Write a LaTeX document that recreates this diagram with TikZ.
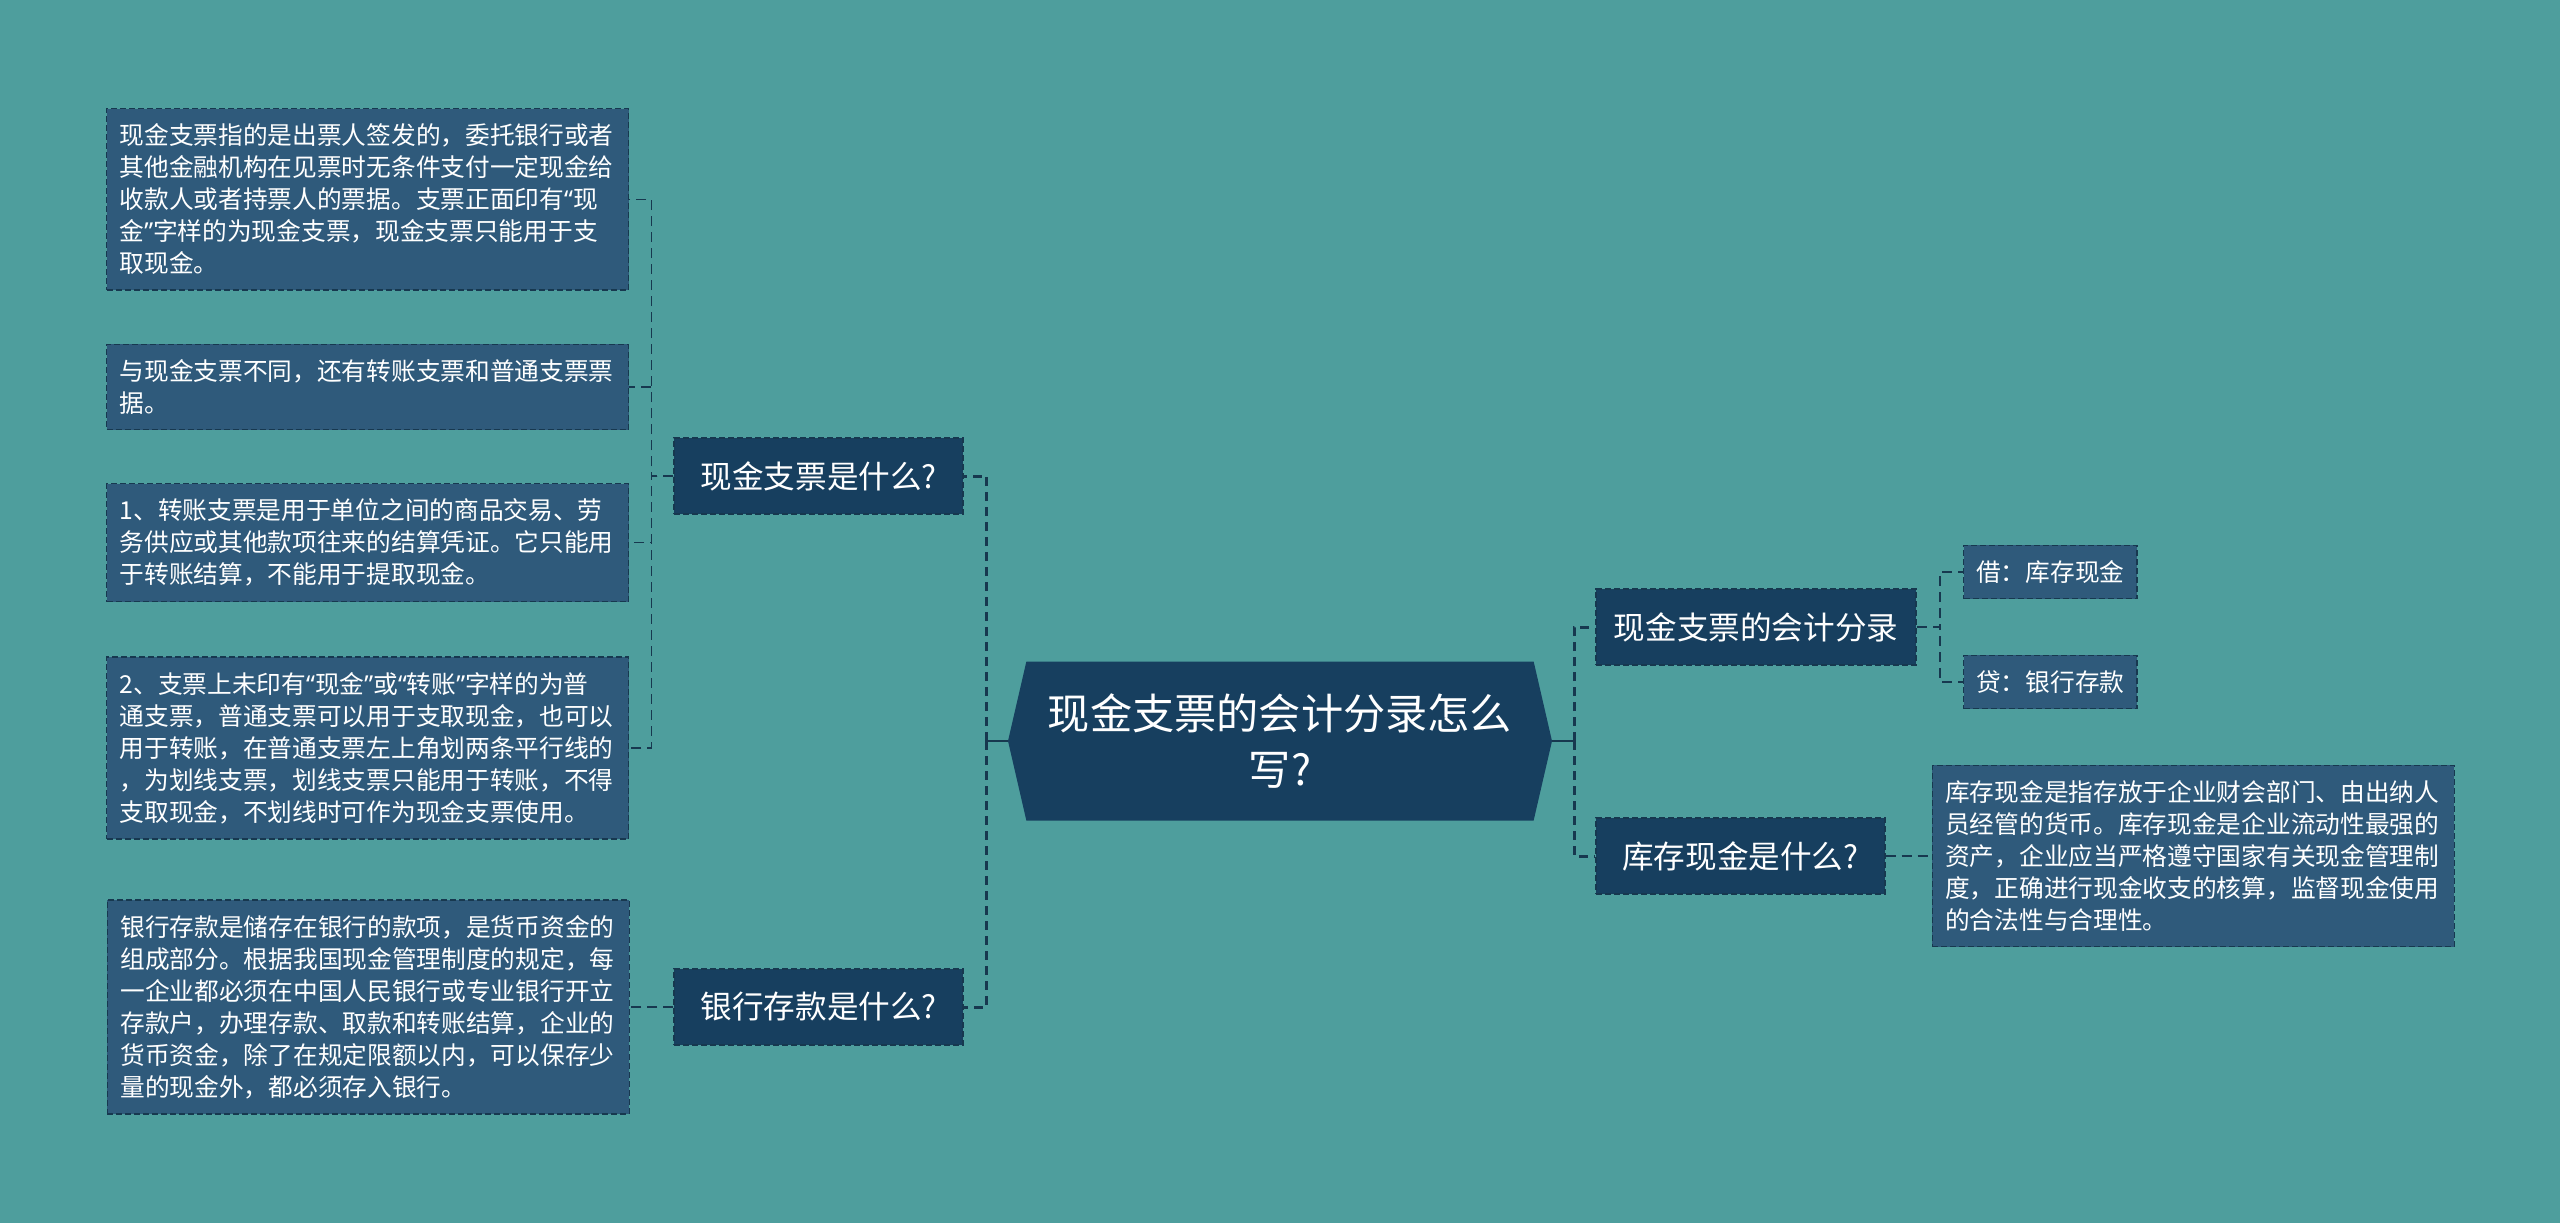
\documentclass[tikz,border=0pt]{standalone}
\usepackage{fontspec}
\setmainfont{Noto Sans CJK SC}
\newfontfamily\quotefont{Noto Sans}
\newcommand\quoted[1]{{\quotefont “}#1{\quotefont ”}}
\usetikzlibrary{positioning,shapes.symbols}
\definecolor{teal}{HTML}{4E9E9D}
\definecolor{navy}{HTML}{173F5F}
\definecolor{slate}{HTML}{2F5A7B}
\definecolor{edge}{HTML}{17384F}
\tikzset{
  x=0.5pt, y=-0.5pt,
  root/.style={
    signal, signal to=west and east, signal pointer angle=154,
    fill=navy, text=white, align=center,
    minimum width=272pt, minimum height=79.5pt, inner sep=0pt,
    font=\fontsize{21.1}{28}\selectfont
  },
  topic/.style={
    draw=edge, dash pattern=on 3pt off 1.5pt, line width=0.8pt,
    fill=navy, text=white,
    minimum width=144.5pt, minimum height=38pt, inner xsep=9pt,
    font=\fontsize{15.8}{19}\selectfont
  },
  leaf/.style={
    draw=edge, dash pattern=on 3pt off 1.5pt, line width=0.6pt,
    fill=slate, text=white, align=left,
    inner xsep=6.3pt, inner ysep=7.6pt,
    font=\fontsize{12.35}{16}\selectfont
  },
  note/.style={
    leaf, text width=248pt, inner xsep=6.5pt
  },
  stub/.style={draw=edge, line width=1pt},
  trunk/.style={draw=edge, line width=1.5pt, dash pattern=on 4.5pt off 3pt},
  twig/.style={draw=edge, line width=0.65pt, dash pattern=on 5pt off 3pt}
}
\begin{document}
\begin{tikzpicture}
  \fill[teal] (0,0) rectangle (2560,1223);
  \useasboundingbox (0,0) rectangle (2560,1223);

  % centre
  \node[root] (root) at (1280,741) {现金支票的会计分录怎么\\写?};

  % left branch
  \node[topic, anchor=east] (cash) at (964,476) {现金支票是什么?};
  \node[topic, anchor=east] (bank) at (964,1007) {银行存款是什么?};

  \node[note, anchor=north west] (def) at (106,108)
    {现金支票指的是出票人签发的，委托银行或者\\其他金融机构在见票时无条件支付一定现金给\\收款人或者持票人的票据。支票正面印有{\quotefont “}现\\金{\quotefont ”}字样的为现金支票，现金支票只能用于支\\取现金。};
  \node[note, below=26.5pt of def] (kinds)
    {与现金支票不同，还有转账支票和普通支票票\\据。};
  \node[note, below=26.5pt of kinds] (transfer)
    {1、转账支票是用于单位之间的商品交易、劳\\务供应或其他款项往来的结算凭证。它只能用\\于转账结算，不能用于提取现金。};
  \node[note, below=27pt of transfer] (common)
    {2、支票上未印有\quoted{现金}或\quoted{转账}字样的为普\\通支票，普通支票可以用于支取现金，也可以\\用于转账，在普通支票左上角划两条平行线的\\，为划线支票，划线支票只能用于转账，不得\\支取现金，不划线时可作为现金支票使用。};
  \node[note, anchor=east] (deposit) at (630,1007)
    {银行存款是储存在银行的款项，是货币资金的\\组成部分。根据我国现金管理制度的规定，每\\一企业都必须在中国人民银行或专业银行开立\\存款户，办理存款、取款和转账结算，企业的\\货币资金，除了在规定限额以内，可以保存少\\量的现金外，都必须存入银行。};

  % right branch
  \node[topic, anchor=west] (entry) at (1595,627) {现金支票的会计分录};
  \node[topic, anchor=west] (stock) at (1595,856) {库存现金是什么?};

  \node[leaf, right=23pt of entry, yshift=27.5pt] (debit) {借：库存现金};
  \node[leaf, right=23pt of entry, yshift=-27.5pt] (credit) {贷：银行存款};
  \node[note, right=23pt of stock] (stockdef)
    {库存现金是指存放于企业财会部门、由出纳人\\员经管的货币。库存现金是企业流动性最强的\\资产，企业应当严格遵守国家有关现金管理制\\度，正确进行现金收支的核算，监督现金使用\\的合法性与合理性。};

  % links from the centre
  \draw[stub] (root.west) -- ++(-21,0) coordinate (busL);
  \draw[stub] (root.east) -- ++(22,0) coordinate (busR);
  \draw[trunk] (busL) |- (cash.east);
  \draw[trunk] (busL) |- (bank.east);
  \draw[trunk] (busR) |- (entry.west);
  \draw[trunk] (busR) |- (stock.west);

  % links to the notes
  \foreach \n in {def,kinds,transfer,common}
    \draw[twig] (cash.west) -- ++(-22,0) |- (\n.east);
  \draw[twig] (bank.west) -- (deposit.east);
  \draw[twig] (entry.east) -- ++(23,0) |- (debit.west);
  \draw[twig] (entry.east) -- ++(23,0) |- (credit.west);
  \draw[twig] (stock.east) -- (stockdef.west);
\end{tikzpicture}
\end{document}
